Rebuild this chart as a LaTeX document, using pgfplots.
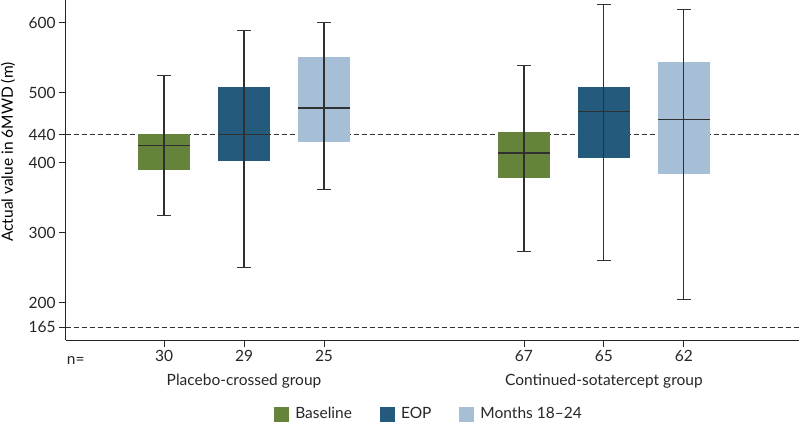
\documentclass[border=0pt]{standalone}
\usepackage{fontspec}
\setmainfont{Lato}
\usepackage{pgfplots}
\pgfplotsset{compat=1.18}
\definecolor{cgreen}{HTML}{65833A}
\definecolor{cdark}{HTML}{245B7D}
\definecolor{clight}{HTML}{A6BED6}
\definecolor{cline}{HTML}{303030}

\pgfplotsset{
  sqlegend/.style={legend image code/.code={\fill[##1] (0pt,-7.5pt) rectangle (15pt,7.5pt);}},
}

% #1 position, #2 lower whisker, #3 lower quartile, #4 median, #5 upper quartile, #6 upper whisker, #7 colour
\newcommand\onebox[7]{%
  \pgfmathsetmacro\bxL{#1-0.325}\pgfmathsetmacro\bxR{#1+0.325}%
  \pgfmathsetmacro\cpL{#1-0.0875}\pgfmathsetmacro\cpR{#1+0.0875}%
  \edef\tmp{%
    \noexpand\addplot[forget plot, fill=#7, draw=none] coordinates {(\bxL,#3) (\bxR,#3) (\bxR,#5) (\bxL,#5)} -- cycle;
    \noexpand\addplot[forget plot, cline, line width=1.2pt] coordinates {(#1,#2) (#1,#6)};
    \noexpand\addplot[forget plot, cline, line width=1.2pt] coordinates {(\cpL,#2) (\cpR,#2)};
    \noexpand\addplot[forget plot, cline, line width=1.2pt] coordinates {(\cpL,#6) (\cpR,#6)};
    \noexpand\addplot[forget plot, cline, line width=1.4pt] coordinates {(\bxL,#4) (\bxR,#4)};
  }\tmp}

\begin{document}
\begin{tikzpicture}[font=\fontsize{15.5}{18}\selectfont]
\begin{axis}[
  at={(65.7pt,86.7pt)}, anchor=south west,
  scale only axis, width=733.3pt, height=340.3pt,
  xmin=-0.23, xmax=8.94, ymin=146.3, ymax=632.4,
  axis lines*=left,
  axis line style={line width=1pt, black!85},
  clip=false,
  xtick={1,2,3,5.5,6.5,7.5},
  xticklabels={30,29,25,67,65,62},
  ytick={165,200,300,400,440,500,600},
  tick style={black!85, line width=0.8pt},
  major tick length=6.5pt,
  tick align=outside,
  /pgf/number format/assume math mode=true,
  ticklabel style={font=\fontsize{15.5}{18}\selectfont, text=black!85},
  ylabel={Actual value in 6MWD (m)},
  ylabel style={font=\fontsize{15.5}{18}\selectfont, text=black!85},
  every axis y label/.style={at={(axis description cs:-0.0787,0.553)}, rotate=90, anchor=center},
  legend columns=3,
  legend style={draw=none, fill=none, at={(axis description cs:0.4955,-0.2166)}, anchor=center,
    font=\fontsize{15.5}{18}\selectfont, text=black!85,
    /tikz/every odd column/.append style={column sep=4pt},
    /tikz/every even column/.append style={column sep=26pt}},
]
% reference lines
\addplot[forget plot, dash pattern=on 5pt off 3pt, line width=1.1pt, cline] coordinates {(-0.23,440) (8.94,440)};
\addplot[forget plot, dash pattern=on 5pt off 3pt, line width=1.1pt, cline] coordinates {(-0.23,165) (8.94,165)};
% boxes: position, lower whisker, Q1, median, Q3, upper whisker
\onebox{1}{325}{389}{424.5}{441.5}{525}{cgreen}
\onebox{2}{250}{402}{440}{508}{589}{cdark}
\onebox{3}{362}{429}{478}{551}{600}{clight}
\onebox{5.5}{273.5}{378}{414}{444}{538.5}{cgreen}
\onebox{6.5}{260}{407}{473}{508}{625.5}{cdark}
\onebox{7.5}{205}{383.5}{462}{544}{619}{clight}
% legend
\addlegendimage{sqlegend, fill=cgreen, draw=none}
\addlegendentry{Baseline}
\addlegendimage{sqlegend, fill=cdark, draw=none}
\addlegendentry{EOP}
\addlegendimage{sqlegend, fill=clight, draw=none}
\addlegendentry{Months 18–24}
% labels
\node[anchor=west, inner sep=0pt, text=black!85] at ([xshift=1pt,yshift=-20pt]rel axis cs:0,0) {n=};
\node[text=black!85] at ([yshift=-41pt]axis cs:2,146.3) {Placebo-crossed group};
\node[text=black!85] at ([yshift=-41pt]axis cs:6.5,146.3) {Continued-sotatercept group};
\end{axis}
\pgfresetboundingbox
\path (0,0) rectangle (799pt,427pt);
\end{tikzpicture}
\end{document}
